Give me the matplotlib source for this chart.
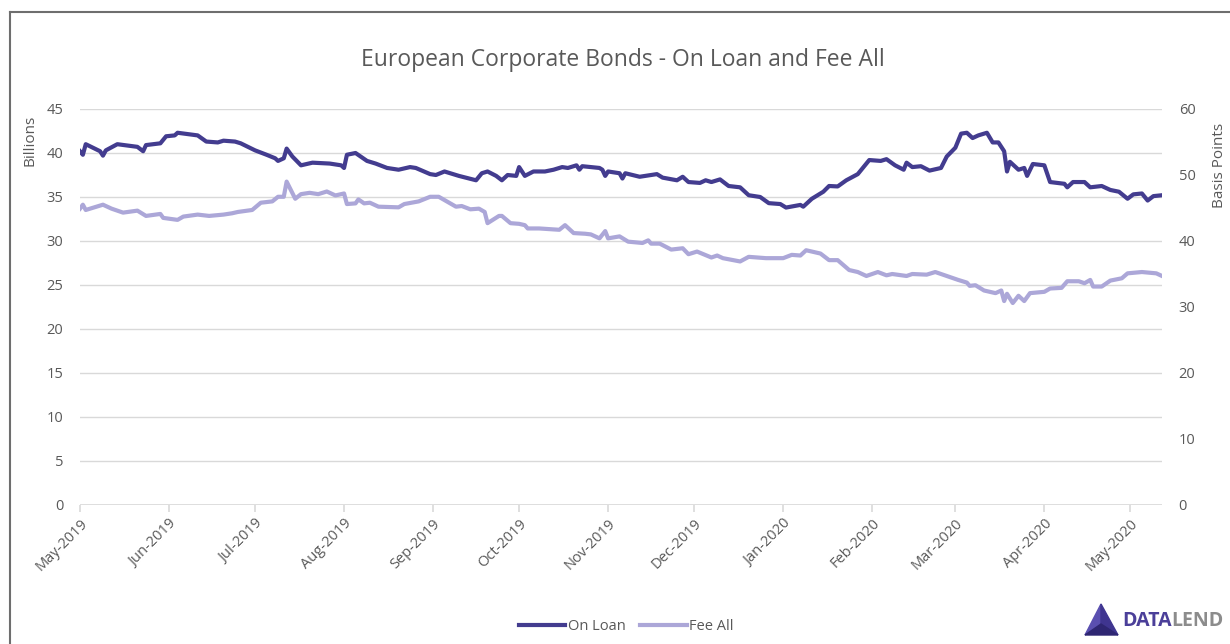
import matplotlib
matplotlib.use('Agg')
import matplotlib.pyplot as plt
import matplotlib.dates as mdates
from matplotlib.patches import Polygon
import pandas as pd

# On Loan (billions, left axis)
loan_dates = ['2019-05-01', '2019-05-02', '2019-05-03', '2019-05-08', '2019-05-09', '2019-05-10',
              '2019-05-14', '2019-05-21', '2019-05-23', '2019-05-24', '2019-05-29', '2019-05-31',
              '2019-06-03', '2019-06-04', '2019-06-11', '2019-06-14', '2019-06-18', '2019-06-20',
              '2019-06-24', '2019-06-26', '2019-07-01', '2019-07-05', '2019-07-08', '2019-07-09',
              '2019-07-11', '2019-07-12', '2019-07-14', '2019-07-17', '2019-07-21', '2019-07-27',
              '2019-07-31', '2019-08-01', '2019-08-02', '2019-08-05', '2019-08-09', '2019-08-12',
              '2019-08-16', '2019-08-20', '2019-08-24', '2019-08-26', '2019-08-31', '2019-09-02',
              '2019-09-05', '2019-09-10', '2019-09-16', '2019-09-18', '2019-09-20', '2019-09-23',
              '2019-09-25', '2019-09-27', '2019-09-30', '2019-10-01', '2019-10-03', '2019-10-06',
              '2019-10-10', '2019-10-13', '2019-10-16', '2019-10-18', '2019-10-21', '2019-10-22',
              '2019-10-23', '2019-10-29', '2019-10-30', '2019-10-31', '2019-11-01', '2019-11-05',
              '2019-11-06', '2019-11-07', '2019-11-12', '2019-11-18', '2019-11-20', '2019-11-25',
              '2019-11-27', '2019-11-29', '2019-12-03', '2019-12-05', '2019-12-07', '2019-12-10',
              '2019-12-13', '2019-12-17', '2019-12-20', '2019-12-24', '2019-12-27', '2019-12-31',
              '2020-01-02', '2020-01-07', '2020-01-08', '2020-01-11', '2020-01-15', '2020-01-17',
              '2020-01-20', '2020-01-23', '2020-01-27', '2020-01-31', '2020-02-04', '2020-02-06',
              '2020-02-09', '2020-02-12', '2020-02-13', '2020-02-15', '2020-02-18', '2020-02-21',
              '2020-02-25', '2020-02-27', '2020-03-01', '2020-03-03', '2020-03-05', '2020-03-07',
              '2020-03-09', '2020-03-12', '2020-03-14', '2020-03-16', '2020-03-18', '2020-03-19',
              '2020-03-20', '2020-03-23', '2020-03-25', '2020-03-26', '2020-03-28', '2020-04-01',
              '2020-04-03', '2020-04-08', '2020-04-09', '2020-04-11', '2020-04-15', '2020-04-17',
              '2020-04-21', '2020-04-24', '2020-04-27', '2020-04-30', '2020-05-02', '2020-05-05',
              '2020-05-07', '2020-05-09', '2020-05-12']
on_loan = [40.2, 39.8, 41.0, 40.2, 39.7, 40.3,
           41.0, 40.7, 40.2, 40.9, 41.1, 41.9,
           42.0, 42.3, 42.0, 41.3, 41.2, 41.4,
           41.3, 41.1, 40.3, 39.8, 39.4, 39.1,
           39.4, 40.5, 39.6, 38.6, 38.9, 38.8,
           38.6, 38.3, 39.8, 40.0, 39.1, 38.8,
           38.3, 38.1, 38.4, 38.3, 37.6, 37.5,
           37.9, 37.4, 36.9, 37.7, 37.9, 37.4,
           36.9, 37.5, 37.4, 38.4, 37.4, 37.9,
           37.9, 38.1, 38.4, 38.3, 38.6, 38.1,
           38.5, 38.3, 38.1, 37.4, 37.9, 37.7,
           37.1, 37.7, 37.3, 37.6, 37.2, 36.9,
           37.3, 36.7, 36.6, 36.9, 36.7, 37.0,
           36.25, 36.1, 35.2, 35.0, 34.3, 34.2,
           33.8, 34.1, 33.9, 34.8, 35.6, 36.25,
           36.2, 36.9, 37.6, 39.2, 39.1, 39.3,
           38.6, 38.1, 38.9, 38.4, 38.5, 38.0,
           38.3, 39.6, 40.6, 42.2, 42.3, 41.7,
           42.0, 42.3, 41.2, 41.2, 40.2, 37.9,
           39.0, 38.1, 38.3, 37.4, 38.75, 38.6,
           36.7, 36.5, 36.1, 36.7, 36.7, 36.1,
           36.25, 35.8, 35.6, 34.8, 35.3, 35.4,
           34.6, 35.1, 35.2]

# Fee All (basis points, right axis)
fee_dates = ['2019-05-01', '2019-05-02', '2019-05-03', '2019-05-09', '2019-05-12', '2019-05-16',
             '2019-05-21', '2019-05-24', '2019-05-29', '2019-05-30', '2019-06-04', '2019-06-06',
             '2019-06-11', '2019-06-15', '2019-06-20', '2019-06-23', '2019-06-25', '2019-06-30',
             '2019-07-03', '2019-07-07', '2019-07-09', '2019-07-11', '2019-07-12', '2019-07-15',
             '2019-07-17', '2019-07-20', '2019-07-23', '2019-07-26', '2019-07-29', '2019-08-01',
             '2019-08-02', '2019-08-05', '2019-08-06', '2019-08-08', '2019-08-10', '2019-08-13',
             '2019-08-20', '2019-08-22', '2019-08-27', '2019-08-31', '2019-09-03', '2019-09-07',
             '2019-09-09', '2019-09-11', '2019-09-14', '2019-09-17', '2019-09-19', '2019-09-20',
             '2019-09-24', '2019-09-25', '2019-09-28', '2019-10-01', '2019-10-03', '2019-10-04',
             '2019-10-08', '2019-10-15', '2019-10-17', '2019-10-20', '2019-10-24', '2019-10-26',
             '2019-10-29', '2019-10-31', '2019-11-01', '2019-11-05', '2019-11-08', '2019-11-13',
             '2019-11-15', '2019-11-16', '2019-11-19', '2019-11-23', '2019-11-27', '2019-11-29',
             '2019-12-02', '2019-12-07', '2019-12-09', '2019-12-11', '2019-12-17', '2019-12-20',
             '2019-12-26', '2020-01-01', '2020-01-04', '2020-01-07', '2020-01-09', '2020-01-14',
             '2020-01-17', '2020-01-20', '2020-01-24', '2020-01-27', '2020-01-30', '2020-02-03',
             '2020-02-06', '2020-02-08', '2020-02-13', '2020-02-15', '2020-02-20', '2020-02-23',
             '2020-02-27', '2020-03-02', '2020-03-05', '2020-03-06', '2020-03-08', '2020-03-11',
             '2020-03-15', '2020-03-17', '2020-03-18', '2020-03-19', '2020-03-21', '2020-03-23',
             '2020-03-25', '2020-03-27', '2020-04-01', '2020-04-03', '2020-04-07', '2020-04-09',
             '2020-04-13', '2020-04-15', '2020-04-17', '2020-04-18', '2020-04-21', '2020-04-24',
             '2020-04-28', '2020-04-30', '2020-05-05', '2020-05-10', '2020-05-12']
fee_all = [44.9, 45.5, 44.7, 45.5, 44.9, 44.3,
           44.6, 43.8, 44.1, 43.5, 43.2, 43.7,
           44.0, 43.8, 44.0, 44.2, 44.4, 44.7,
           45.8, 46.0, 46.7, 46.7, 49.0, 46.4,
           47.1, 47.3, 47.1, 47.5, 46.9, 47.2,
           45.6, 45.7, 46.3, 45.7, 45.8, 45.2,
           45.1, 45.6, 46.0, 46.7, 46.7, 45.7,
           45.2, 45.3, 44.8, 44.9, 44.4, 42.7,
           43.8, 43.8, 42.7, 42.6, 42.4, 41.9,
           41.9, 41.7, 42.4, 41.2, 41.1, 41.0,
           40.4, 41.5, 40.4, 40.7, 39.9, 39.7,
           40.1, 39.6, 39.6, 38.7, 38.9, 38.0,
           38.4, 37.5, 37.8, 37.4, 36.9, 37.6,
           37.4, 37.4, 37.9, 37.8, 38.6, 38.1,
           37.1, 37.1, 35.6, 35.3, 34.7, 35.3,
           34.8, 35.0, 34.7, 35.0, 34.9, 35.3,
           34.7, 34.1, 33.7, 33.2, 33.3, 32.5,
           32.1, 32.5, 30.9, 32.0, 30.6, 31.7,
           30.9, 32.1, 32.3, 32.8, 32.9, 33.9,
           33.9, 33.6, 34.1, 33.1, 33.1, 34.0,
           34.35, 35.1, 35.3, 35.1, 34.7]

month_ticks = pd.date_range('2019-05-01', '2020-05-01', freq='MS')

loan_color = '#433c8f'
fee_color = '#aca7d8'
text_color = '#595959'
grid_color = '#d9d9d9'

plt.rcParams['font.family'] = ['Open Sans', 'DejaVu Sans']

fig = plt.figure(figsize=(12.3, 6.44), dpi=100)
ax = fig.add_axes([80 / 1230, 1 - 505 / 644, (1162 - 80) / 1230, (505 - 109) / 644])
ax2 = ax.twinx()

l1, = ax.plot(pd.to_datetime(loan_dates), on_loan, color=loan_color, lw=3, label='On Loan',
              solid_joinstyle='round', zorder=3)
l2, = ax2.plot(pd.to_datetime(fee_dates), fee_all, color=fee_color, lw=3, label='Fee All',
               solid_joinstyle='round', zorder=3)

ax.set_xlim(pd.Timestamp('2019-05-01'), pd.Timestamp('2020-05-12'))
ax.set_ylim(0, 45)
ax2.set_ylim(0, 60)
ax.set_yticks(range(0, 46, 5))
ax2.set_yticks(range(0, 61, 10))
ax.set_xticks(month_ticks)
ax.xaxis.set_major_formatter(mdates.DateFormatter('%b-%Y'))

ax.grid(axis='y', color=grid_color, lw=1)
ax.set_axisbelow(True)
for a in (ax, ax2):
    for s in ['top', 'left', 'right', 'bottom']:
        a.spines[s].set_visible(False)
ax.axhline(0, color=grid_color, lw=1.2, zorder=1)

ax.tick_params(axis='y', length=0, pad=12, labelsize=10.5, labelcolor=text_color)
ax2.tick_params(axis='y', length=0, pad=12, labelsize=10.5, labelcolor=text_color)
ax.tick_params(axis='x', length=5, color=grid_color, width=1.2, pad=3,
               labelsize=10.5, labelcolor=text_color)
for lbl in ax.get_xticklabels():
    lbl.set_rotation(45)
    lbl.set_ha('right')
    lbl.set_rotation_mode('anchor')

ax.set_ylabel('Billions', fontsize=11, color=text_color)
ax.yaxis.set_label_coords(-0.039, 0.92)
ax2.set_ylabel('Basis Points', fontsize=11, color=text_color)
ax2.yaxis.set_label_coords(1.046, 0.858)

fig.text(623 / 1230, 1 - 60 / 644, 'European Corporate Bonds - On Loan and Fee All',
         ha='center', va='center', fontsize=16.5, color=text_color)

fig.legend(handles=[l1, l2], loc='center', bbox_to_anchor=(626 / 1230, 1 - 627 / 644),
           ncol=2, frameon=False, fontsize=10.5, labelcolor=text_color,
           handlelength=3.2, handletextpad=0.15, columnspacing=1.0)

# outer frame
fig.add_artist(plt.Line2D([10 / 1230, 10 / 1230], [0, 1 - 12 / 644], transform=fig.transFigure,
                          color='#6e6e6e', lw=1.5))
fig.add_artist(plt.Line2D([10 / 1230, 1], [1 - 12 / 644, 1 - 12 / 644], transform=fig.transFigure,
                          color='#6e6e6e', lw=1.5))

# DATALEND logo
def fx(x):
    return x / 1230

def fy(y):
    return 1 - y / 644

tip = (fx(1101), fy(604))
bl = (fx(1085), fy(635))
br = (fx(1118), fy(635))
mid = (fx(1101), fy(624))
fig.add_artist(Polygon([tip, bl, mid], closed=True, transform=fig.transFigure, color='#5a4fb0'))
fig.add_artist(Polygon([tip, mid, br], closed=True, transform=fig.transFigure, color='#3f3590'))
fig.add_artist(Polygon([bl, mid, br], closed=True, transform=fig.transFigure, color='#2e2672'))
t = fig.text(fx(1122), fy(621), 'DATA', fontsize=14, fontweight='bold', color='#4b3f99',
             ha='left', va='center')
fig.canvas.draw()
bb = t.get_window_extent()
fig.text(bb.x1 / fig.bbox.width, fy(621), 'LEND', fontsize=14, fontweight='bold', color='#8c8c8c',
         ha='left', va='center')

fig.savefig('out.png', dpi=100)
